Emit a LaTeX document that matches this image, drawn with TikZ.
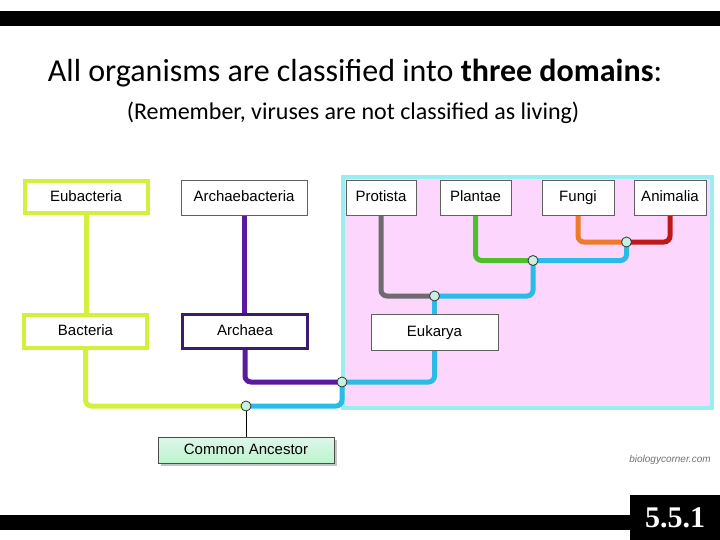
\documentclass[tikz,border=0pt]{standalone}
\usepackage{fontspec}
\setmainfont{Carlito}
\newfontfamily\arialf{Liberation Sans}
\newfontfamily\timesf{Liberation Serif}
\usetikzlibrary{shadows}
\pgfdeclarelayer{back}
\pgfdeclarelayer{links}
\pgfsetlayers{back,links,main}
\definecolor{ygreen}{HTML}{D4F03C}
\definecolor{purp}{HTML}{5A1AA0}
\definecolor{darkpurp}{HTML}{3C1A6E}
\definecolor{lblue}{HTML}{2ABCE6}
\definecolor{grayl}{HTML}{6E6A70}
\definecolor{greenl}{HTML}{4CC02A}
\definecolor{orangel}{HTML}{F07A2A}
\definecolor{redl}{HTML}{C01818}
\definecolor{pinkfill}{HTML}{FCD6FC}
\definecolor{cyanborder}{HTML}{9AEEF2}
\definecolor{boxgray}{HTML}{606060}
\definecolor{juncfill}{HTML}{C8F0E0}
\tikzset{
  taxbox/.style={draw=boxgray, line width=0.9pt, fill=white, inner sep=0pt,
    minimum height=35pt, text height=11pt, text depth=3pt,
    font=\arialf\fontsize{15}{17}\selectfont},
  link/.style={line width=5pt, rounded corners=6pt},
  junc/.style={circle, draw=black!80, line width=0.8pt, fill=juncfill, minimum size=10pt, inner sep=0pt},
}
\begin{document}
\begin{tikzpicture}[x=1pt,y=-1pt]
\useasboundingbox (0,0) rectangle (720,540);
\begin{pgfonlayer}{back}
\fill[white] (0,0) rectangle (720,540);
\draw[draw=cyanborder, fill=pinkfill, line width=4pt] (343,177) rectangle (712,408);
\end{pgfonlayer}
% bars
\fill[black] (0,11) rectangle (720,26);
\fill[black] (0,515) rectangle (720,530);
\node[fill=black, text=white, minimum width=90pt, minimum height=45pt, inner sep=0pt,
  font=\timesf\bfseries\fontsize{30}{32}\selectfont] (num) at (675,517.5) {5.5.1};
% titles
\node[font=\fontsize{32}{36}\selectfont] (title) at (355,73) {All organisms are classified into \textbf{three domains}:};
\node[font=\fontsize{24}{28}\selectfont] (sub) at (353,113) {(Remember, viruses are not classified as living)};
\node[font=\arialf\itshape\fontsize{10}{12}\selectfont, text=black!55] (credit) at (670,460) {biologycorner.com};
% coordinates of junctions
\coordinate (j0) at (246,406);
\coordinate (j1) at (342,382);
\coordinate (j2) at (434.5,296);
\coordinate (j3) at (533,260.5);
\coordinate (j4) at (626.5,242);
% boxes
\node[taxbox, draw=ygreen, line width=4pt, minimum width=123pt, minimum height=32pt] (eub) at (86,197.5) {Eubacteria};
\node[taxbox, minimum width=126pt] (archb) at (244,198) {Archaebacteria};
\node[taxbox, minimum width=70pt] (pro) at (381,197.5) {Protista};
\node[taxbox, minimum width=71pt] (pla) at (475.5,197.5) {Plantae};
\node[taxbox, minimum width=72pt] (fun) at (578,197.5) {Fungi};
\node[taxbox, minimum width=72pt] (ani) at (670,197.5) {Animalia};
\node[taxbox, draw=ygreen, line width=4pt, minimum width=123pt, minimum height=33pt] (bac) at (85.5,331.5) {Bacteria};
\node[taxbox, draw=darkpurp, line width=3pt, minimum width=125pt, minimum height=34pt] (arc) at (245,331.5) {Archaea};
\node[taxbox, minimum width=127pt, minimum height=36pt] (euk) at (434.5,332) {Eukarya};
\node[taxbox, draw=black!70, line width=0.9pt, minimum width=176pt, minimum height=26pt,
  top color=juncfill!60!white, bottom color=juncfill!85!green!80!white,
  drop shadow={shadow xshift=2.5pt, shadow yshift=-2.5pt, fill=black!45}] (ca) at (246,450) {Common Ancestor};
% connectors
\begin{pgfonlayer}{links}
\draw[link, ygreen] (eub.south) -- (eub.south |- bac.north);
\draw[link, ygreen] (bac.south) |- (j0);
\draw[link, purp] (archb.south) -- (archb.south |- arc.north);
\draw[link, purp] (arc.south) |- (j1);
\draw[link, lblue] (j0) -| (j1);
\draw[link, lblue] (j1) -| (euk.south);
\draw[link, lblue] (euk.north) -- (j2);
\draw[link, grayl] (pro.south) |- (j2);
\draw[link, lblue] (j2) -| (j3);
\draw[link, greenl] (pla.south) |- (j3);
\draw[link, lblue] (j3) -| (j4);
\draw[link, orangel] (fun.south) |- (j4);
\draw[link, redl] (ani.south) |- (j4);
\draw[line width=1pt, black] (j0) -- (ca.north);
\end{pgfonlayer}
% junction dots
\node[junc] (n0) at (j0) {};
\node[junc] (n1) at (j1) {};
\node[junc] (n2) at (j2) {};
\node[junc] (n3) at (j3) {};
\node[junc] (n4) at (j4) {};
\end{tikzpicture}
\end{document}
